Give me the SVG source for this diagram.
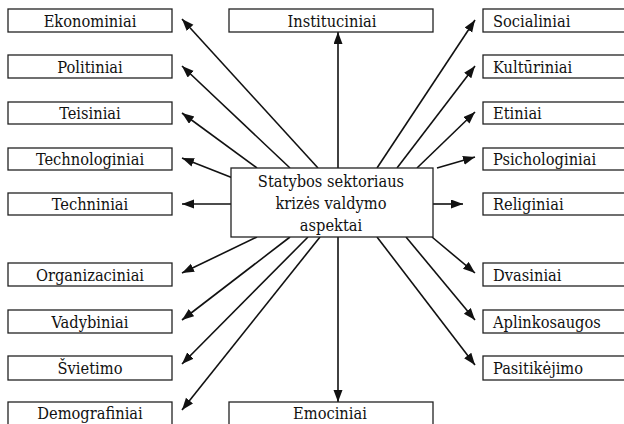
<svg xmlns="http://www.w3.org/2000/svg" width="624" height="424" viewBox="0 0 624 424">
<style>
.b{fill:#fff;stroke:#222;stroke-width:1.3}
.t{font-family:'DejaVu Serif Condensed','DejaVu Serif',serif;font-stretch:condensed;font-size:16.3px;fill:#111}
.c{text-anchor:middle}
.e{stroke:#111;stroke-width:1.6;fill:none;marker-end:url(#ah)}
</style>
<defs>
<marker id="ah" markerUnits="userSpaceOnUse" markerWidth="13" markerHeight="10" refX="12" refY="4.5" orient="auto">
<path d="M0,0 L12,4.5 L0,9 z" fill="#111"/>
</marker>
</defs>
<rect width="624" height="424" fill="#fff"/>
<g id="connectors">
<line class="e" x1="318" y1="168" x2="182" y2="19"/>
<line class="e" x1="290" y1="168" x2="182" y2="66"/>
<line class="e" x1="257" y1="168" x2="182" y2="113"/>
<line class="e" x1="243" y1="182" x2="182" y2="158"/>
<line class="e" x1="243" y1="204" x2="182" y2="204"/>
<line class="e" x1="338" y1="168" x2="338" y2="32"/>
<line class="e" x1="377" y1="168" x2="475" y2="20"/>
<line class="e" x1="397" y1="168" x2="475" y2="66"/>
<line class="e" x1="417" y1="168" x2="475" y2="112"/>
<line class="e" x1="437" y1="168" x2="475" y2="157"/>
<line class="e" x1="433" y1="204" x2="463" y2="204"/>
<line class="e" x1="257" y1="237" x2="182" y2="273"/>
<line class="e" x1="290" y1="237" x2="182" y2="320"/>
<line class="e" x1="308" y1="237" x2="182" y2="364"/>
<line class="e" x1="320" y1="237" x2="182" y2="410"/>
<line class="e" x1="338" y1="237" x2="338" y2="402"/>
<line class="e" x1="432" y1="237" x2="475" y2="273"/>
<line class="e" x1="406" y1="237" x2="475" y2="320"/>
<line class="e" x1="377" y1="237" x2="475" y2="365"/>
</g>
<g id="center"><rect class="b" x="231" y="168" width="202" height="69"/>
<text class="t c" x="331" y="187">Statybos sektoriaus</text>
<text class="t c" x="331" y="209">krizės valdymo</text>
<text class="t c" x="331" y="231">aspektai</text></g>
<g id="ekonominiai"><rect class="b" x="8" y="9" width="164" height="23"/><text class="t c" x="90" y="27">Ekonominiai</text></g>
<g id="politiniai"><rect class="b" x="8" y="55" width="164" height="23"/><text class="t c" x="90" y="73">Politiniai</text></g>
<g id="teisiniai"><rect class="b" x="8" y="102" width="164" height="22"/><text class="t c" x="90" y="119">Teisiniai</text></g>
<g id="technologiniai"><rect class="b" x="8" y="148" width="164" height="22"/><text class="t c" x="90" y="165">Technologiniai</text></g>
<g id="techniniai"><rect class="b" x="8" y="193" width="164" height="22"/><text class="t c" x="90" y="210">Techniniai</text></g>
<g id="organizaciniai"><rect class="b" x="8" y="263" width="164" height="23"/><text class="t c" x="90" y="281">Organizaciniai</text></g>
<g id="vadybiniai"><rect class="b" x="8" y="310" width="164" height="23"/><text class="t c" x="90" y="328">Vadybiniai</text></g>
<g id="svietimo"><rect class="b" x="8" y="356" width="164" height="24"/><text class="t c" x="90" y="374">Švietimo</text></g>
<g id="demografiniai"><rect class="b" x="8" y="402" width="164" height="30"/><text class="t c" x="90" y="419">Demografiniai</text></g>
<g id="instituciniai"><rect class="b" x="229" y="9" width="204" height="23"/><text class="t c" x="332" y="27">Instituciniai</text></g>
<g id="emociniai"><rect class="b" x="229" y="402" width="204" height="30"/><text class="t c" x="330" y="419">Emociniai</text></g>
<g id="socialiniai"><rect class="b" x="483" y="9" width="160" height="23"/><text class="t" x="493" y="27">Socialiniai</text></g>
<g id="kulturiniai"><rect class="b" x="483" y="55" width="160" height="23"/><text class="t" x="493" y="73">Kultūriniai</text></g>
<g id="etiniai"><rect class="b" x="483" y="102" width="160" height="22"/><text class="t" x="493" y="119">Etiniai</text></g>
<g id="psichologiniai"><rect class="b" x="483" y="148" width="160" height="22"/><text class="t" x="493" y="165">Psichologiniai</text></g>
<g id="religiniai"><rect class="b" x="483" y="193" width="160" height="22"/><text class="t" x="493" y="210">Religiniai</text></g>
<g id="dvasiniai"><rect class="b" x="483" y="263" width="160" height="23"/><text class="t" x="493" y="281">Dvasiniai</text></g>
<g id="aplinkosaugos"><rect class="b" x="483" y="310" width="160" height="23"/><text class="t" x="493" y="328">Aplinkosaugos</text></g>
<g id="pasitikejimo"><rect class="b" x="483" y="356" width="160" height="24"/><text class="t" x="493" y="374">Pasitikėjimo</text></g>
</svg>
